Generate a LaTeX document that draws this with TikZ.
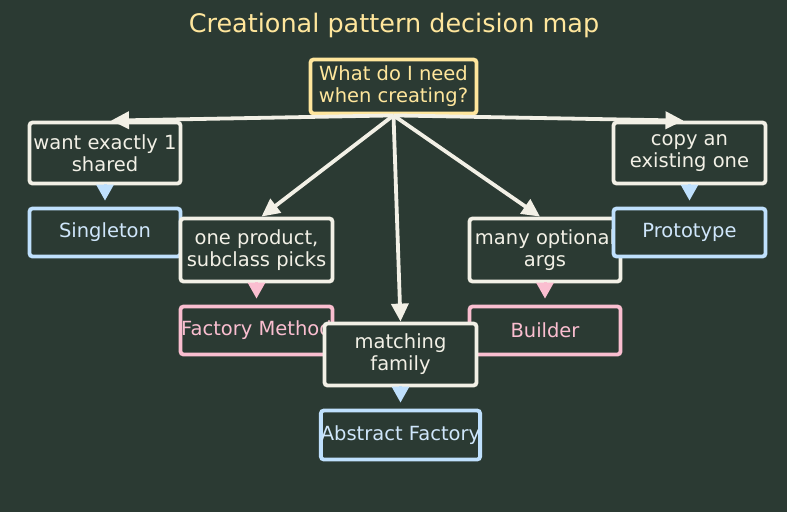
\documentclass[tikz,border=0pt]{standalone}
\usepackage{fontspec}
\setmainfont{DejaVu Sans}
\usetikzlibrary{arrows.meta}
\definecolor{bg}{HTML}{2B3A33}
\definecolor{ink}{HTML}{F2F0E6}
\definecolor{gold}{HTML}{FFE69C}
\definecolor{sky}{HTML}{BFE0FD}
\definecolor{skytext}{HTML}{CFE6FB}
\definecolor{rose}{HTML}{FABED0}
\begin{document}
\begin{tikzpicture}[x=1pt,y=-1pt,
  box/.style={draw, line width=3.8pt, rounded corners=3pt, fill=bg, inner sep=0pt,
    align=center, font=\fontsize{19.5}{22}\selectfont},
  qbox/.style={box, draw=ink, text=ink},
  bluebox/.style={box, draw=sky, text=skytext},
  pinkbox/.style={box, draw=rose, text=rose},
  bigarrow/.style={draw=ink, line width=3.8pt, -{Triangle[length=18pt,width=17pt]}},
  smallarrow/.style={line width=3pt, -{Triangle[length=16pt,width=17pt]}, shorten >=6pt, shorten <=1.5pt}
]
\fill[bg] (0,0) rectangle (787,512);
\useasboundingbox (0,0) rectangle (787,512);

\node[text=gold, font=\fontsize{25.5}{30}\selectfont] (title) at (394,25) {Creational pattern decision map};

\node[box, draw=gold, text=gold, minimum width=166pt, minimum height=54pt] (root) at (393.5,86.5) {What do I need\\when creating?};

\node[qbox, minimum width=151pt, minimum height=61pt] (want) at (105,153) {want exactly 1\\shared};
\node[bluebox, minimum width=151pt, minimum height=48pt] (single) at (105,232.5) {Singleton};

\node[qbox, minimum width=152pt, minimum height=63pt] (one) at (256.5,250) {one product,\\subclass picks};
\node[pinkbox, minimum width=152pt, minimum height=48pt] (fm) at (256.5,330.5) {Factory Method};

\node[qbox, minimum width=151pt, minimum height=63pt] (many) at (545,250) {many optional\\args};
\node[pinkbox, minimum width=151pt, minimum height=48pt] (builder) at (545,330.5) {Builder};

\node[qbox, minimum width=152pt, minimum height=62pt] (match) at (400.5,354.5) {matching\\family};
\node[bluebox, minimum width=152pt, minimum height=49pt] (af) at (400.5,435) {Abstract Factory};

\node[qbox, minimum width=152pt, minimum height=61pt] (copy) at (689.5,153) {copy an\\existing one};
\node[bluebox, minimum width=152pt, minimum height=48pt] (proto) at (689.5,232.5) {Prototype};

\draw[bigarrow] (root.south) -- ([xshift=6pt]want.north);
\draw[bigarrow] (root.south) -- ([xshift=-6pt]copy.north);
\draw[bigarrow] (root.south) -- ([xshift=5pt]one.north);
\draw[bigarrow] (root.south) -- ([xshift=-5pt]many.north);
\draw[bigarrow] (root.south) -- (match.north);

\draw[smallarrow, sky] (want.south) -- (single.north);
\draw[smallarrow, rose] (one.south) -- (fm.north);
\draw[smallarrow, rose] (many.south) -- (builder.north);
\draw[smallarrow, sky] (match.south) -- (af.north);
\draw[smallarrow, sky] (copy.south) -- (proto.north);
\end{tikzpicture}
\end{document}
